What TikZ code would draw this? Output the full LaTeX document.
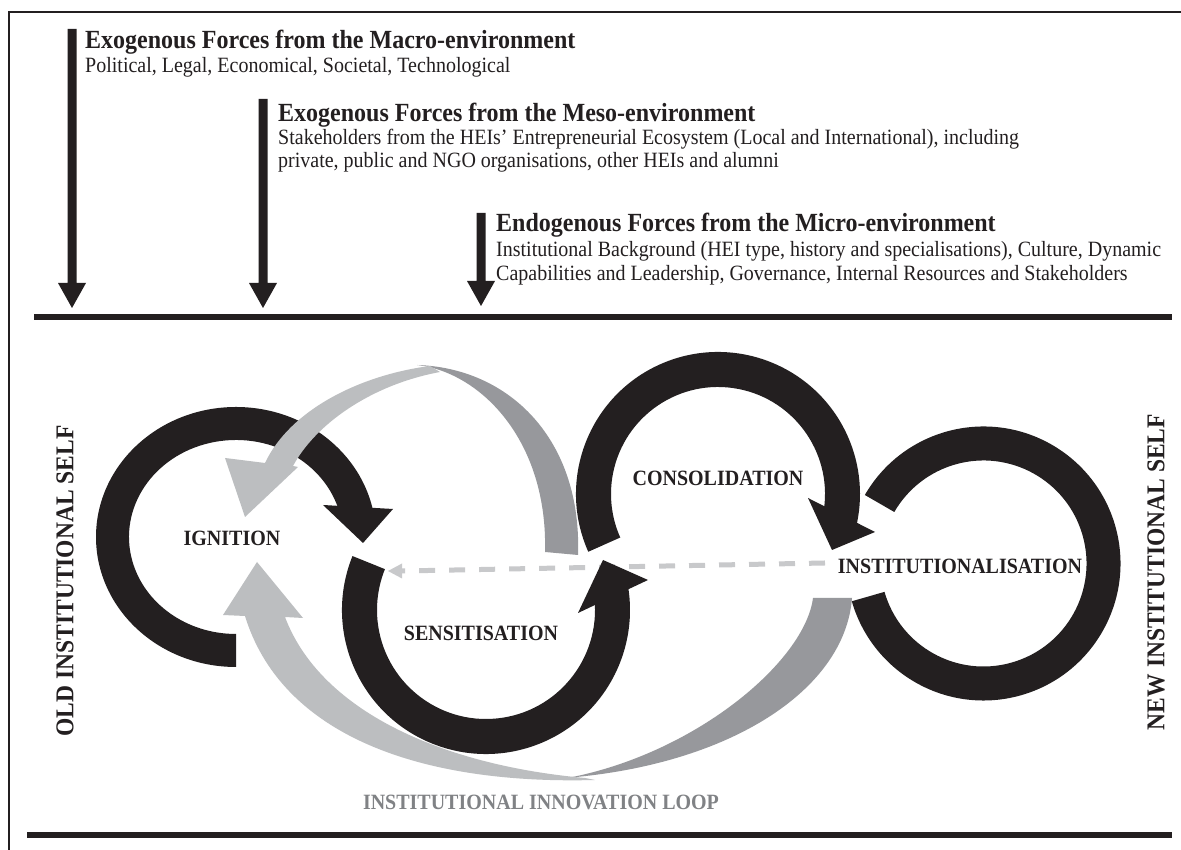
\documentclass[tikz,border=0pt]{standalone}
\usepackage{fontspec}
\usepackage{graphicx}
\setmainfont{Liberation Serif}
\usetikzlibrary{calc}
\definecolor{ink}{HTML}{231F20}
\definecolor{lgray}{HTML}{BCBEC0}
\definecolor{dgray}{HTML}{97989C}
\definecolor{dashgray}{HTML}{C8C9CB}
\definecolor{loopgray}{HTML}{808285}
\newcommand\tallt[1]{\scalebox{1}[1.09]{#1}}
\tikzset{
  forcetitle/.style={font=\fontsize{24}{28}\selectfont\bfseries, text=ink, anchor=base west, inner sep=0pt},
  forcetext/.style={font=\fontsize{20}{24}\selectfont, text=ink, anchor=base west, inner sep=0pt},
  stagelabel/.style={font=\fontsize{20}{24}\selectfont\bfseries, text=ink, inner sep=0pt},
  selflabel/.style={font=\fontsize{23.5}{28}\selectfont\bfseries, text=ink, inner sep=0pt, rotate=90},
  rule/.style={ink, line width=6pt},
}
\newcommand\forcearrow[2]{%
  \fill[ink] ($(#1)+(-4.5,0)$) -- ($(#1)+(4.5,0)$) -- ($(#2)+(4.5,25)$) -- ($(#2)+(14,25)$)
    -- (#2) -- ($(#2)+(-14,25)$) -- ($(#2)+(-4.5,25)$) -- cycle;}
\begin{document}
\begin{tikzpicture}[x=1pt,y=1pt]
\useasboundingbox (0,0) rectangle (1181,850);
\fill[white] (0,0) rectangle (1181,850);
% frame and rules
\draw[ink, line width=2pt] (9,0) -- (9,838) -- (1181,838);
\coordinate (topL) at (34,533); \coordinate (topR) at (1172,533);
\coordinate (botL) at (27,15);  \coordinate (botR) at (1172,15);
\draw[rule] (topL) -- (topR);
\draw[rule] (botL) -- (botR);
% force arrows
\coordinate (a1top) at (72,821);  \coordinate (a1tip) at (72,542);
\coordinate (a2top) at (263,751); \coordinate (a2tip) at (263,542);
\coordinate (a3top) at (481,637); \coordinate (a3tip) at (481,544);
\forcearrow{a1top}{a1tip}
\forcearrow{a2top}{a2tip}
\forcearrow{a3top}{a3tip}
% force texts
\node[forcetitle] (macro) at (85,801) {\tallt{Exogenous Forces from the Macro-environment}};
\node[forcetext] (macrotxt) at (85,777) {\tallt{Political, Legal, Economical, Societal, Technological}};
\node[forcetitle] (meso) at (278,728) {\tallt{Exogenous Forces from the Meso-environment}};
\node[forcetext] (meso1) at (278,705) {\tallt{Stakeholders from the HEIs’ Entrepreneurial Ecosystem (Local and International), including}};
\node[forcetext] (meso2) at (278,682) {\tallt{private, public and NGO organisations, other HEIs and alumni}};
\node[forcetitle] (endo) at (496,618) {\tallt{Endogenous Forces from the Micro-environment}};
\node[forcetext] (endo1) at (496,593) {\tallt{Institutional Background (HEI type, history and specialisations), Culture, Dynamic}};
\node[forcetext] (endo2) at (496,569) {\tallt{Capabilities and Leadership, Governance, Internal Resources and Stakeholders}};
% dashed feedback arrow
\coordinate (dashR) at (825,287); \coordinate (dashL) at (402,279); \coordinate (dashtip) at (388,279);
\draw[dashgray, line width=5pt, dash pattern=on 16pt off 14pt] (dashR) -- (dashL);
\fill[dashgray] (dashtip) -- ($(dashL)+(0,7.5)$) -- ($(dashL)+(0,-7.5)$) -- cycle;
% bottom gray swooshes
\fill[dgray] (852,252) .. controls (845,160) and (730,85) .. (565,72) -- (575,73.5)
  .. controls (700,100) and (805,190) .. (813,252) -- cycle;
\fill[lgray] (245,234) -- (223,235) -- (257,288) -- (303,232) -- (285,233)
  .. controls (320,140) and (440,85) .. (585,72) -- (595,70)
  .. controls (410,65) and (280,120) .. (245,234) -- cycle;
% top dark gray swoosh
\fill[dgray] (417,485) .. controls (510,482) and (582,410) .. (578,295) -- (545,298)
  .. controls (548,410) and (480,478) .. (417,485) -- cycle;
% black rings
\coordinate (ic) at (236,313);
\fill[ink] ($(ic)+(270:140pt and 130pt)$) arc[start angle=270, end angle=10, x radius=140pt, y radius=130pt]
  -- ($(ic)+(14:107pt and 97pt)$) arc[start angle=14, end angle=270, x radius=107pt, y radius=97pt] -- cycle;
\fill[ink] (323,345) -- (393,341) -- (363,307) -- cycle;
\coordinate (sc) at (486,240);
\fill[ink] ($(sc)+(158:144pt)$) arc[start angle=158, end angle=371, radius=144pt]
  -- ($(sc)+(366:109pt)$) arc[start angle=366, end angle=158, radius=109pt] -- cycle;
\fill[ink] (578,237) -- (648,270) -- (603,290) -- cycle;
\coordinate (cc) at (718,356);
\fill[ink] ($(cc)+(204:142pt)$) arc[start angle=204, end angle=-14, radius=142pt]
  -- ($(cc)+(-11:107pt)$) arc[start angle=-11, end angle=204, radius=107pt] -- cycle;
\fill[ink] (808,352) -- (875,318) -- (832,300) -- cycle;
\coordinate (nc) at (983.5,286.5);
\fill[ink] ($(nc)+(150:137pt)$) arc[start angle=150, end angle=-164, radius=137pt]
  -- ($(nc)+(-164:103pt)$) arc[start angle=-164, end angle=150, radius=103pt] -- cycle;
% top light gray arrow (over the ignition ring)
\fill[lgray] (440,478) -- (430,484) .. controls (360,475) and (290,440) .. (265,387)
  -- (225,392) -- (245,333) -- (298,383) -- (293,384)
  .. controls (315,425) and (370,465) .. (440,478) -- cycle;
% stage labels
\node[stagelabel] (ign) at (232,312) {\tallt{IGNITION}};
\node[stagelabel] (sens) at (481,217) {\tallt{SENSITISATION}};
\node[stagelabel] (cons) at (718,372) {\tallt{CONSOLIDATION}};
\node[stagelabel] (inst) at (960,284) {\tallt{INSTITUTIONALISATION}};
\node[stagelabel, text=loopgray] (loop) at (541,48) {\tallt{INSTITUTIONAL INNOVATION LOOP}};
\node[selflabel] (old) at (65,269) {\tallt{OLD INSTITUTIONAL SELF}};
\node[selflabel] (new) at (1156,278) {\tallt{NEW INSTITUTIONAL SELF}};
\end{tikzpicture}
\end{document}
